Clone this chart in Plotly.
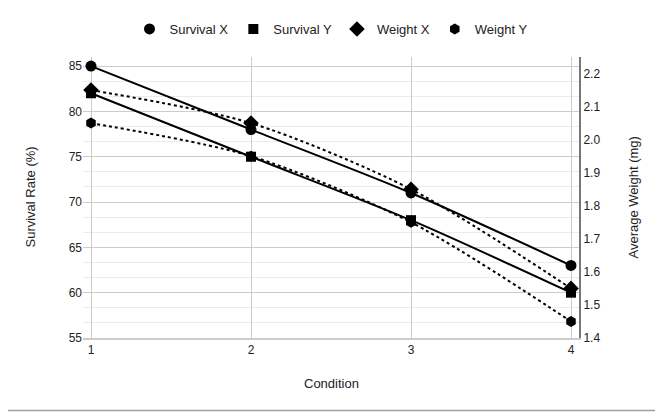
import plotly.graph_objects as go

# condition index on the x axis
conditions = [1, 2, 3, 4]

# survival rate (%), left axis
survival_x = [85, 78, 71, 63]
survival_y = [82, 75, 68, 60]

# average weight (mg), right axis
weight_x = [2.15, 2.05, 1.85, 1.55]
weight_y = [2.05, 1.95, 1.75, 1.45]

left_ticks = [55, 60, 65, 70, 75, 80, 85]
right_ticks = [1.4, 1.5, 1.6, 1.7, 1.8, 1.9, 2.0, 2.1, 2.2]

FONT = "Liberation Sans, Arial, sans-serif"

# the page body adds an 8px offset, so size the figure to end at the window edge
OFF = 8
W, H = 663 - OFF, 413 - OFF
# plot area on screen: x 83..579, y 57..338
L, R, T, B = 83 - OFF, W - (579 - OFF), 57 - OFF, H - (338 - OFF)
PW, PH = W - L - R, H - T - B


def px_x(px):
    return (px - OFF - L) / PW


def px_y(py):
    return (H - B - (py - OFF)) / PH


series = [
    ("Survival X", conditions, survival_x, "y", "solid", "circle", 11),
    ("Survival Y", conditions, survival_y, "y", "solid", "square", 10),
    ("Weight X", conditions, weight_x, "y2", "dot", "diamond", 12),
    ("Weight Y", conditions, weight_y, "y2", "dot", "hexagon", 11),
]

fig = go.Figure()
for name, xs, ys, axis, dash, symbol, size in series:
    # line drawn on its own so the legend shows only the marker, like the original
    fig.add_trace(go.Scatter(
        x=xs, y=ys, name=name, yaxis=axis, mode="lines", showlegend=False,
        legendgroup=name,
        line=dict(color="black", width=2, dash=dash, shape="spline", smoothing=0.8),
    ))
    fig.add_trace(go.Scatter(
        x=xs, y=ys, name=name, yaxis=axis, mode="markers", legendgroup=name,
        marker=dict(symbol=symbol, size=size, color="black"),
    ))

axis_title = dict(family=FONT, size=13, color="#222222")
tick_font = dict(family=FONT, size=12, color="#222222")

fig.update_layout(
    width=W, height=H,
    margin=dict(l=L, r=R, t=T, b=B, pad=0, autoexpand=False),
    paper_bgcolor="white", plot_bgcolor="white",
    font=dict(family=FONT, size=12, color="#222222"),
    hovermode=False,
    legend=dict(
        orientation="h", x=0.5, xanchor="center", y=px_y(29), yanchor="middle",
        font=dict(family=FONT, size=13, color="#222222"), itemwidth=30,
        bgcolor="rgba(0,0,0,0)",
    ),
    xaxis=dict(
        range=[0.95, 4.05], tickvals=conditions, ticktext=[str(c) for c in conditions],
        showgrid=True, gridcolor="#cccccc", gridwidth=1, zeroline=False,
        showline=True, linecolor="#cccccc", linewidth=1.5,
        ticks="", tickfont=tick_font,
    ),
    yaxis=dict(
        range=[55, 86], tickvals=left_ticks, showgrid=True, gridcolor="#cccccc",
        zeroline=False, showline=False, ticks="",
        minor=dict(tick0=55, dtick=5 / 3, showgrid=True, gridcolor="#ebebeb", ticks=""),
        tickfont=tick_font,
    ),
    yaxis2=dict(
        range=[1.4, 2.25], tickvals=right_ticks, overlaying="y", side="right",
        tickformat=".1f", showgrid=False, zeroline=False,
        showline=True, linecolor="#777777", linewidth=2, ticks="",
        tickfont=tick_font,
    ),
    annotations=[
        dict(text="Survival Rate (%)", xref="paper", yref="paper", x=px_x(30), y=0.5,
             xanchor="center", yanchor="middle",
             textangle=-90, showarrow=False, font=axis_title),
        dict(text="Average Weight (mg)", xref="paper", yref="paper", x=px_x(633), y=0.5,
             xanchor="center", yanchor="middle",
             textangle=-90, showarrow=False, font=axis_title),
        dict(text="Condition", xref="paper", yref="paper", x=0.5, y=px_y(383),
             xanchor="center", yanchor="middle", showarrow=False, font=axis_title),
    ],
    shapes=[
        dict(type="rect", xref="paper", yref="paper",
             x0=px_x(1), x1=px_x(660.5), y0=px_y(410.5), y1=px_y(2),
             line=dict(color="#9e9e9e", width=1.5), layer="below"),
    ],
)

fig.write_html("out.html")
